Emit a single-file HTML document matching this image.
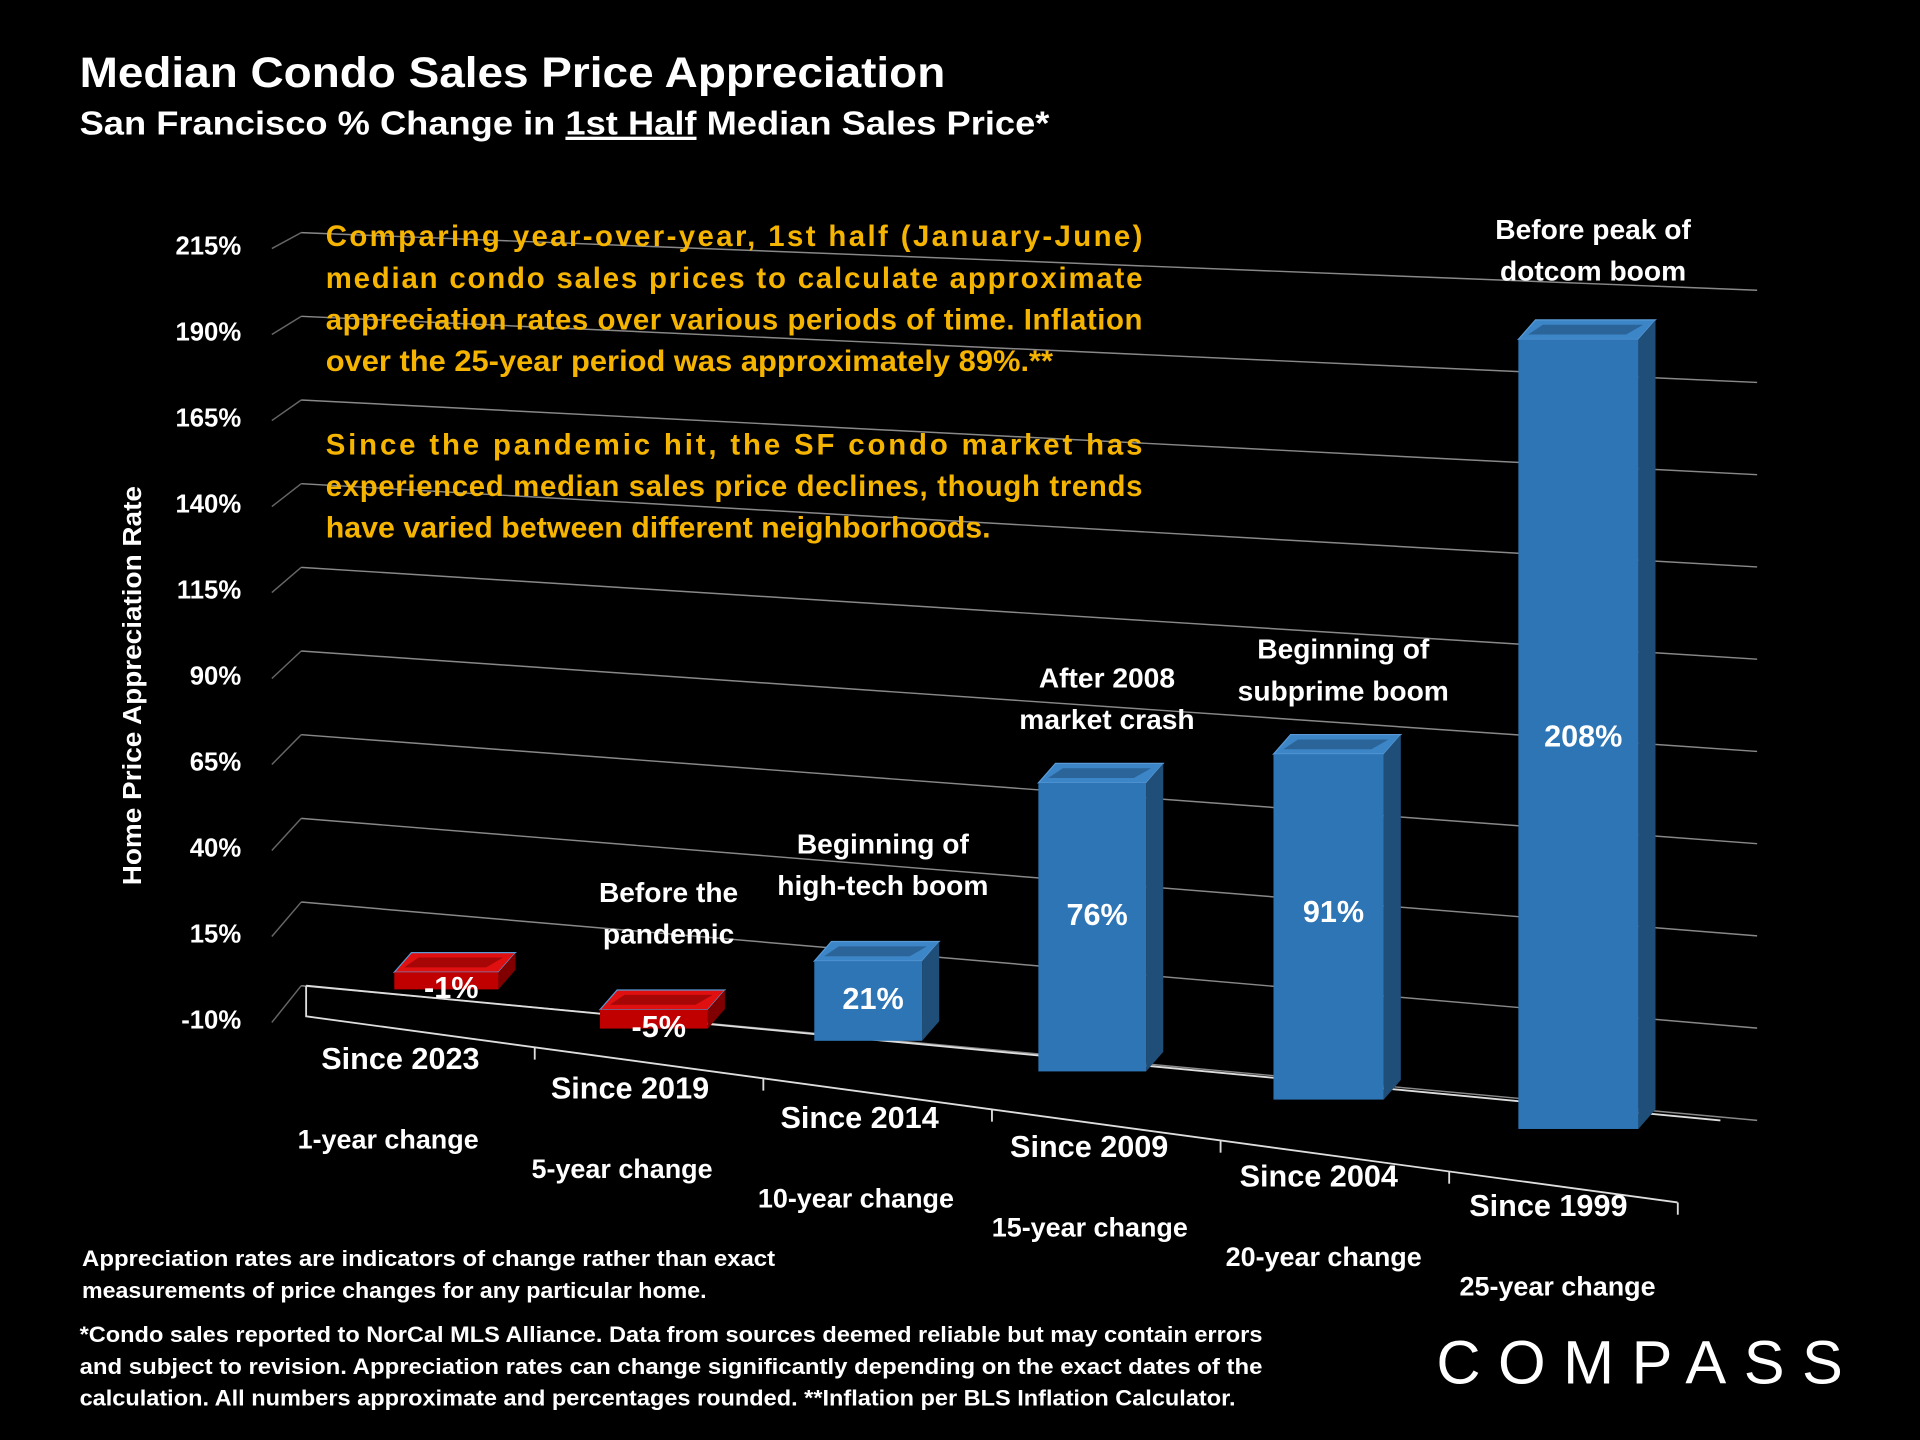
<!DOCTYPE html>
<html><head><meta charset="utf-8">
<style>
html,body{margin:0;padding:0;background:#000;}
svg{display:block;font-family:"Liberation Sans",sans-serif;font-weight:bold;}
</style></head>
<body>
<svg id="chart" width="1920" height="1440" viewBox="0 0 1568 1176" xmlns="http://www.w3.org/2000/svg">
<rect x="0" y="0" width="1568" height="1176" fill="#000"/>
<text x="65" y="71" fill="#fff" font-size="35" textLength="707" lengthAdjust="spacingAndGlyphs">Median Condo Sales Price Appreciation</text>
<text x="65" y="110" fill="#fff" font-size="27" textLength="792" lengthAdjust="spacingAndGlyphs">San Francisco % Change in <tspan text-decoration="underline">1st Half</tspan> Median Sales Price*</text>
<g id="grid"></g>
<g id="bars"></g>
<g id="labels"></g>
<g fill="#f5b400" font-size="24">
<text x="266" y="201" textLength="667" lengthAdjust="spacing">Comparing  year-over-year,  1st  half  (January-June)</text>
<text x="266" y="235" textLength="667" lengthAdjust="spacing">median condo sales prices to calculate approximate</text>
<text x="266" y="269" textLength="667" lengthAdjust="spacing">appreciation rates over various periods of time. Inflation</text>
<text x="266" y="303" textLength="594" lengthAdjust="spacingAndGlyphs">over the 25-year period was approximately 89%.**</text>
<text x="266" y="371" textLength="667" lengthAdjust="spacing">Since the pandemic hit, the SF condo market has</text>
<text x="266" y="405" textLength="667" lengthAdjust="spacing">experienced median sales price declines, though trends</text>
<text x="266" y="439" textLength="543" lengthAdjust="spacingAndGlyphs">have varied between different neighborhoods.</text>
</g>
<text transform="translate(115,560) rotate(-90)" text-anchor="middle" fill="#fff" font-size="21" textLength="326" lengthAdjust="spacingAndGlyphs">Home Price Appreciation Rate</text>
<g fill="#fff" font-size="18">
<text x="67" y="1034" textLength="566" lengthAdjust="spacingAndGlyphs">Appreciation rates are indicators of change rather than exact</text>
<text x="67" y="1060" textLength="510" lengthAdjust="spacingAndGlyphs">measurements of price changes for any particular home.</text>
<text x="65" y="1096" textLength="966" lengthAdjust="spacingAndGlyphs">*Condo sales reported to NorCal MLS Alliance. Data from sources deemed reliable but may contain errors</text>
<text x="65" y="1122" textLength="966" lengthAdjust="spacingAndGlyphs">and subject to revision. Appreciation rates can change significantly depending on the exact dates of the</text>
<text x="65" y="1148" textLength="944" lengthAdjust="spacingAndGlyphs">calculation. All numbers  approximate and percentages rounded. **Inflation per BLS Inflation Calculator.</text>
</g>
<text x="1173" y="1130" fill="#fff" font-size="50" font-weight="normal" textLength="332" lengthAdjust="spacing">COMPASS</text>
</svg>
<script>
const yTicks = [-10, 15, 40, 65, 90, 115, 140, 165, 190, 215];
const tickLabels = ["-10%","15%","40%","65%","90%","115%","140%","165%","190%","215%"];
const categories = ["Since 2023","Since 2019","Since 2014","Since 2009","Since 2004","Since 1999"];
const periods = ["1-year change","5-year change","10-year change","15-year change","20-year change","25-year change"];
const values = [-1, -5, 21, 76, 91, 208];
const valueLabels = ["-1%","-5%","21%","76%","91%","208%"];
const notes = [[],["Before the","pandemic"],["Beginning of","high-tech boom"],["After 2008","market crash"],["Beginning of","subprime boom"],["Before peak of","dotcom boom"]];

const NS="http://www.w3.org/2000/svg";
function mk(tag,attrs,parent){const e=document.createElementNS(NS,tag);for(const k in attrs)e.setAttribute(k,attrs[k]);parent.appendChild(e);return e;}
const vmin=-10,vmax=215;
function t(v){return (v-vmin)/(vmax-vmin);}
function labelY(v){return 832-t(v)*(832-200);}
function backLY(v){return 805-t(v)*(805-190);}
function backRY(v){return 915-t(v)*(915-237);}
function catX(i){return [322,490,665,848,1040,1240][i];}
function catBase(i){return [808,840,850,875,898,922][i];}
function catW(i){return [85,88,88,88,90,98][i];}
const K=3.1;
function barH(v){return Math.max(Math.abs(v)*K,14);}

const grid=document.getElementById('grid');
yTicks.forEach((v,i)=>{
  const l=mk('line',{x1:222,y1:labelY(v)+3,x2:246,y2:backLY(v),stroke:'#666','stroke-width':1.2},grid);
  
  
  const b=mk('line',{x1:246,y1:backLY(v),x2:1435,y2:backRY(v),stroke:'#888','stroke-width':1.2},grid);
  
  
  const tx=mk('text',{x:197,y:labelY(v)+8,fill:'#fff','font-size':21,'text-anchor':'end'},grid);
  
  
  tx.textContent=tickLabels[i];
});
const fl=mk('path',{d:'M250,805 L250,830 L1370,982 M250,805 L1405,915',stroke:'#ddd','stroke-width':1.5,fill:'none'},grid);


for(let i=1;i<=6;i++){
  const x=250+i*186.7, y=830+(x-250)*(152/1120);
  const tk=mk('line',{x1:x,y1:y,x2:x,y2:y+10,stroke:'#ddd','stroke-width':1.5},grid);
  
  
}

const bars=document.getElementById('bars');
const labels=document.getElementById('labels');
values.forEach((v,i)=>{
  const neg=v<0;
  const front=neg?'#c00000':'#2e75b6', top=neg?'#e01010':'#3c86c8', side=neg?'#800000':'#1f4e79';
  const x=catX(i), w=catW(i), yb=catBase(i), h=barH(v), yt=yb-h;
  const dx=14, dy=-16;
  const g=mk('g',{},bars);
  
  
  mk('polygon',{points:`${x},${yt} ${x+dx},${yt+dy} ${x+w+dx},${yt+dy} ${x+w},${yt}`,fill:top,stroke:'#5a9ad6','stroke-width':1},g);
  mk('polygon',{points:`${x+w},${yt} ${x+w+dx},${yt+dy} ${x+w+dx},${yb+dy} ${x+w},${yb}`,fill:side},g);
  mk('rect',{x:x,y:yt,width:w,height:h,fill:front},g);
  mk('polygon',{points:`${x+8},${yt-4} ${x+dx+6},${yt+dy+4} ${x+w+dx-10},${yt+dy+4} ${x+w-10},${yt-4}`,fill:side,opacity:0.6},g);
  const vl=mk('text',{x:x+w/2+4,y:neg?yb+7:yt+h*(i===5?0.5:0.45)+10,fill:'#fff','font-size':25,'text-anchor':'middle'},labels);
  
  
  vl.textContent=valueLabels[i];
  notes[i].forEach((s,j)=>{
    const off = i>=3 && i<5 ? -28 : -38;
    const nt=mk('text',{x:x+w/2+12,y:(i===5?195:yt+dy+off-(1-j)*34)+(i===5?j*34:0),fill:'#fff','font-size':23,'text-anchor':'middle'},labels);
    
    
    nt.textContent=s;
  });
  const lx=327+i*187.5, ly=873+i*24;
  const cl=mk('text',{x:lx,y:ly,fill:'#fff','font-size':25,'text-anchor':'middle'},labels);
  
  
  cl.textContent=categories[i];
  const pl=mk('text',{x:317+i*191,y:938+i*24,fill:'#fff','font-size':22,'text-anchor':'middle'},labels);
  
  
  pl.textContent=periods[i];
});
</script>
</body></html>
